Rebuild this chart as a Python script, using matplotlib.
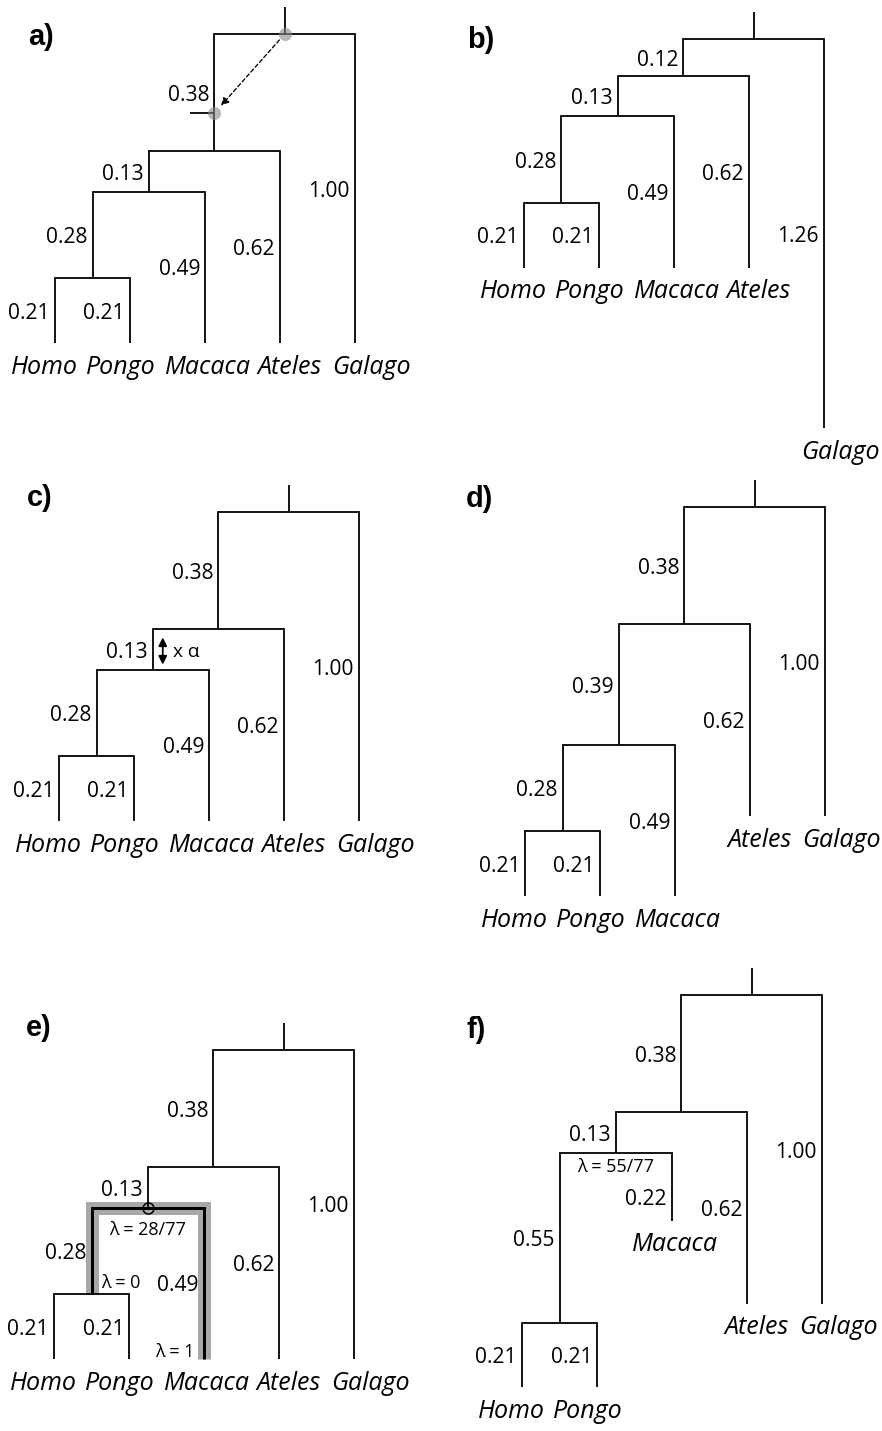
import matplotlib
matplotlib.use("Agg")
import matplotlib.pyplot as plt
import matplotlib.transforms as mtransforms

# one topology for every panel: ((((Homo,Pongo)HP,Macaca)Y,Ateles)X,Galago)
taxa = ["Homo", "Pongo", "Macaca", "Ateles", "Galago"]
children = {"root": ["X", "Galago"], "X": ["Y", "Ateles"],
            "Y": ["HP", "Macaca"], "HP": ["Homo", "Pongo"]}
branches = ["Homo", "Pongo", "HP", "Macaca", "Y", "Ateles", "X", "Galago"]

# branch lengths, in the order of `branches`
len_a = [0.21, 0.21, 0.28, 0.49, 0.13, 0.62, 0.38, 1.00]
len_b = [0.21, 0.21, 0.28, 0.49, 0.13, 0.62, 0.12, 1.26]
len_c = [0.21, 0.21, 0.28, 0.49, 0.13, 0.62, 0.38, 1.00]
len_d = [0.21, 0.21, 0.28, 0.49, 0.39, 0.62, 0.38, 1.00]
len_e = [0.21, 0.21, 0.28, 0.49, 0.13, 0.62, 0.38, 1.00]
len_f = [0.21, 0.21, 0.55, 0.22, 0.13, 0.62, 0.38, 1.00]

lambda_e = ["λ = 28/77", "λ = 0", "λ = 1"]
lambda_f = "λ = 55/77"
alpha_txt = "x α"

W, H = 882, 1431
TIP_PX = 75      # pixels between neighbouring tips
UNIT_PX = 309    # pixels per unit of branch length
STEM = 0.088     # root stem length

# horizontal shift of each taxon name relative to its tip (px)
name_shift = {"Homo": -11, "Pongo": -9, "Macaca": 3, "Ateles": 10, "Galago": 16}

NUM = dict(family="Open Sans", fontsize=21)
TIPF = dict(family="Open Sans", fontsize=25, style="italic")
SMALL = dict(family="Open Sans", fontsize=18)
LINE = dict(color="black", lw=1.8, solid_joinstyle="miter", solid_capstyle="butt")

fig = plt.figure(figsize=(W / 72, H / 72), dpi=72)


def layout(lengths):
    bl = dict(zip(branches, lengths))
    depth = {"root": 0.0}
    xpos = {t: float(i) for i, t in enumerate(taxa)}

    def down(node):
        for c in children.get(node, []):
            depth[c] = depth[node] + bl[c]
            down(c)

    def across(node):
        if node not in xpos:
            xs = [across(c) for c in children[node]]
            xpos[node] = sum(xs) / 2
        return xpos[node]

    down("root")
    across("root")
    return bl, depth, xpos


def panel(ox, oy):
    ax = fig.add_axes([0, 0, 1, 1])
    ax.set_xlim(-ox / TIP_PX, (W - ox) / TIP_PX)
    ax.set_ylim((H - oy) / UNIT_PX, -oy / UNIT_PX)
    ax.axis("off")
    return ax


def draw_tree(ax, lengths, nudge=None):
    nudge = nudge or {}
    bl, depth, xpos = layout(lengths)
    ax.plot([xpos["root"]] * 2, [-STEM, 0], **LINE)
    for node, (k1, k2) in children.items():
        ax.plot([xpos[k1], xpos[k1], xpos[k2], xpos[k2]],
                [depth[k1], depth[node], depth[node], depth[k2]], **LINE)
        for k in (k1, k2):
            dx, dy = nudge.get(k, (0, 0))
            ax.annotate(f"{bl[k]:.2f}", (xpos[k], (depth[node] + depth[k]) / 2),
                        xytext=(-5 + dx, dy), textcoords="offset points",
                        ha="right", va="center_baseline", **NUM)
    for t in taxa:
        ax.annotate(t, (xpos[t], depth[t]), xytext=(name_shift[t], -21),
                    textcoords="offset points", ha="center",
                    va="center_baseline", annotation_clip=False, **TIPF)
    return depth, xpos


def panel_label(txt, x, y):
    fig.text(x / W, 1 - y / H, txt, family="Liberation Sans", weight="bold",
             fontsize=29, ha="left", va="center")


# a) moving the root of the subtree up its stem
ax = panel(55, 34)
depth, xpos = draw_tree(ax, len_a)
graft = 0.256
ax.plot([xpos["X"] - 0.33, xpos["X"]], [graft, graft], **LINE)
ax.scatter([xpos["root"], xpos["X"]], [0, graft], s=170, color="#8a8a8a",
           alpha=0.6, lw=0, zorder=3)
ax.annotate("", xy=(xpos["X"], graft), xytext=(xpos["root"], 0),
            arrowprops=dict(arrowstyle="-|>", color="black", lw=1.3,
                            linestyle=(0, (3, 2)), shrinkA=8, shrinkB=10,
                            mutation_scale=16))
panel_label("a)", 28, 37)

# b)
ax = panel(524, 39)
draw_tree(ax, len_b)
panel_label("b)", 467, 40)

# c) scaling one internal branch by alpha
ax = panel(59, 512)
depth, xpos = draw_tree(ax, len_c)
shift = ax.transData + mtransforms.ScaledTranslation(10 / 72, 0, fig.dpi_scale_trans)
ax.annotate("", xy=(xpos["Y"], depth["Y"]), xytext=(xpos["Y"], depth["X"]),
            xycoords=shift, textcoords=shift,
            arrowprops=dict(arrowstyle="<|-|>", color="black", lw=1.8,
                            shrinkA=8, shrinkB=5, mutation_scale=17))
ax.annotate(alpha_txt, (xpos["Y"], (depth["X"] + depth["Y"]) / 2), xytext=(20, 0),
            textcoords="offset points", ha="left", va="center_baseline",
            family="Open Sans", fontsize=19)
panel_label("c)", 27, 498)

# d)
ax = panel(525, 507)
draw_tree(ax, len_d)
panel_label("d)", 466, 499)

# e) path from the Homo/Pongo node to the Macaca tip
ax = panel(54, 1050)
depth, xpos = draw_tree(ax, len_e)
px = [xpos["HP"], xpos["HP"], xpos["Macaca"], xpos["Macaca"]]
py = [depth["HP"], depth["Y"], depth["Y"], depth["Macaca"]]
ax.plot(px, py, color="#a8a8a8", lw=13, solid_joinstyle="miter",
        solid_capstyle="butt", zorder=1)
ax.plot(px, py, color="black", lw=3, solid_joinstyle="miter",
        solid_capstyle="butt", zorder=2)
ax.plot(xpos["Y"], depth["Y"], "o", ms=11, mfc="none", mec="black", mew=1.5,
        zorder=3)
ax.annotate(lambda_e[0], (xpos["Y"], depth["Y"]), xytext=(0, -20),
            textcoords="offset points", ha="center", va="center_baseline", **SMALL)
ax.annotate(lambda_e[1], (xpos["HP"], depth["HP"]), xytext=(10, 13),
            textcoords="offset points", ha="left", va="center_baseline", **SMALL)
ax.annotate(lambda_e[2], (xpos["Macaca"], depth["Macaca"]), xytext=(-10, 9),
            textcoords="offset points", ha="right", va="center_baseline", **SMALL)
panel_label("e)", 26, 1028)

# f)
ax = panel(522, 995)
depth, xpos = draw_tree(ax, len_f, nudge={"Macaca": (0, -10)})
ax.annotate(lambda_f, (xpos["Y"], depth["Y"]), xytext=(0, -12),
            textcoords="offset points", ha="center", va="center_baseline", **SMALL)
panel_label("f)", 467, 1030)

fig.savefig("out.png", dpi=72, facecolor="white")
